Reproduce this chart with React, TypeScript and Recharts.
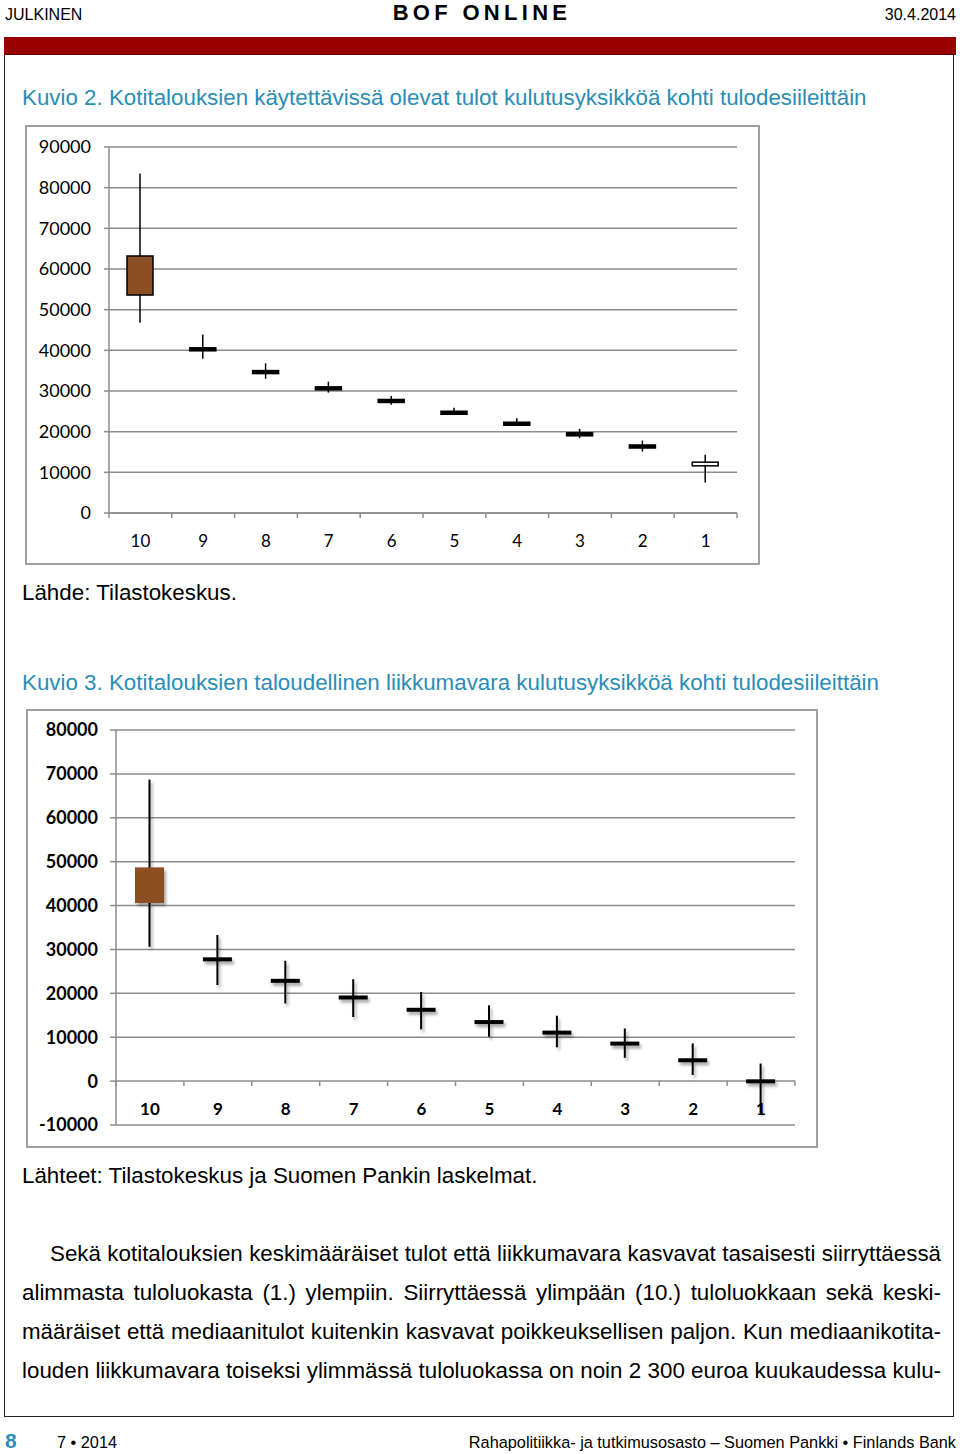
import React from 'react';
import { ComposedChart, Bar, XAxis, YAxis, CartesianGrid } from 'recharts';

// deciles, highest first as in the original figures
const deciles = ['10', '9', '8', '7', '6', '5', '4', '3', '2', '1'];

// Kuvio 2: disposable income per consumption unit (euro / year)
const incomeHigh = [83500, 43900, 36800, 32300, 28800, 25900, 23300, 20700, 17800, 14300];
const incomeBoxTop = [63200, 40600, 35000, 31000, 27900, 25000, 22300, 19700, 16700, 12500];
const incomeBoxBottom = [53600, 39900, 34300, 30300, 27200, 24300, 21600, 19000, 16000, 11600];
const incomeLow = [46800, 37900, 33000, 29600, 26600, 24300, 21600, 18400, 15100, 7500];
const incomeTicks = [0, 10000, 20000, 30000, 40000, 50000, 60000, 70000, 80000, 90000];

// Kuvio 3: financial margin per consumption unit (euro / year)
const marginHigh = [68700, 33300, 27400, 23200, 20300, 17300, 14900, 12000, 8600, 4000];
const marginBoxTop = [48700, 28200, 23300, 19500, 16700, 13900, 11500, 9000, 5200, 400];
const marginBoxBottom = [40600, 27300, 22400, 18600, 15800, 13000, 10600, 8100, 4300, -500];
const marginLow = [30600, 21900, 17700, 14600, 11800, 10100, 7700, 5300, 1400, -7400];
const marginTicks = [-10000, 0, 10000, 20000, 30000, 40000, 50000, 60000, 70000, 80000];

const bodyLines = [
  'Sekä kotitalouksien keskimääräiset tulot että liikkumavara kasvavat tasaisesti siirryttäessä',
  'alimmasta tuloluokasta (1.) ylempiin. Siirryttäessä ylimpään (10.) tuloluokkaan sekä keski-',
  'määräiset että mediaanitulot kuitenkin kasvavat poikkeuksellisen paljon. Kun mediaanikotita-',
  'louden liikkumavara toiseksi ylimmässä tuloluokassa on noin 2 300 euroa kuukaudessa kulu-',
];

const BROWN = '#8b4f24';
const GRID = '#8c8c8c';
const TEAL = '#2a8db5';
const TEXT_SIZE = 22.35;

type Row = { decile: string; high: number; top: number; bottom: number; low: number };

function buildRows(high: number[], top: number[], bottom: number[], low: number[]): Row[] {
  return deciles.map((d, i) => ({ decile: d, high: high[i], top: top[i], bottom: bottom[i], low: low[i] }));
}

const incomeRows = buildRows(incomeHigh, incomeBoxTop, incomeBoxBottom, incomeLow);
const marginRows = buildRows(marginHigh, marginBoxTop, marginBoxBottom, marginLow);

function makeCandle(opts: { fill: (d: string) => string; wick: number; minBox: number; shadow: boolean; id: string }) {
  return function Candle(props: any) {
    const { x, y, width, height, payload, index } = props;
    if (x == null || y == null) return <g />;
    const top = Math.min(y, y + height);
    const h = Math.abs(height);
    const span = payload.high - payload.low;
    const k = span ? h / span : 0;
    const cx = x + width / 2;
    let yTop = top + (payload.high - payload.top) * k;
    let yBot = top + (payload.high - payload.bottom) * k;
    if (yBot - yTop < opts.minBox) {
      const mid = (yTop + yBot) / 2;
      yTop = mid - opts.minBox / 2;
      yBot = mid + opts.minBox / 2;
    }
    const fid = `${opts.id}-sh-${index}`;
    return (
      <g>
        {opts.shadow && (
          <defs>
            <filter id={fid} x="-50%" y="-50%" width="200%" height="200%">
              <feDropShadow dx="2" dy="3" stdDeviation="1.5" floodColor="#000" floodOpacity="0.35" />
            </filter>
          </defs>
        )}
        <g filter={opts.shadow ? `url(#${fid})` : undefined}>
          <line x1={cx} x2={cx} y1={top} y2={top + h} stroke="#000" strokeWidth={opts.wick} />
          <rect
            x={x}
            y={yTop}
            width={width}
            height={yBot - yTop}
            fill={opts.fill(payload.decile)}
            stroke="#000"
            strokeWidth={opts.minBox > 3 ? 0 : 1.5}
          />
        </g>
      </g>
    );
  };
}

function CategoryTick(props: any) {
  const { x, y, payload, index, band, zeroShift, bold, labelGap, fontSize } = props;
  const axisY = y - zeroShift;
  return (
    <g>
      <line x1={x - band / 2} x2={x - band / 2} y1={axisY} y2={axisY + 5} stroke={GRID} strokeWidth={1.5} />
      {index === deciles.length - 1 && (
        <line x1={x + band / 2} x2={x + band / 2} y1={axisY} y2={axisY + 5} stroke={GRID} strokeWidth={1.5} />
      )}
      <text
        x={x}
        y={axisY + labelGap}
        textAnchor="middle"
        dominantBaseline="central"
        fill="#000"
        fontFamily="Lato, sans-serif"
        fontWeight={bold ? 700 : 400}
        fontSize={fontSize}
      >
        {payload.value}
      </text>
    </g>
  );
}

const IncomeCandle = makeCandle({
  fill: (d) => (d === '10' ? BROWN : d === '1' ? '#fff' : '#000'),
  wick: 1.5,
  minBox: 3,
  shadow: false,
  id: 'inc',
});

const MarginCandle = makeCandle({
  fill: (d) => (d === '10' ? BROWN : '#000'),
  wick: 2,
  minBox: 4,
  shadow: true,
  id: 'mar',
});

function IncomeChart() {
  const w = 735;
  const h = 440;
  const left = 84;
  const right = 23;
  const band = (w - left - right) / deciles.length;
  return (
    <ComposedChart width={w} height={h} data={incomeRows} margin={{ top: 22, right, bottom: 0, left: 0 }}>
      <CartesianGrid horizontal vertical={false} stroke={GRID} strokeWidth={1.5} />
      <XAxis
        dataKey="decile"
        height={52}
        axisLine={{ stroke: GRID, strokeWidth: 1.5 }}
        tickLine={false}
        tickSize={0}
        tickMargin={0}
        interval={0}
        tick={(p: any) => <CategoryTick {...p} band={band} zeroShift={0} labelGap={27} fontSize={17} />}
      />
      <YAxis
        type="number"
        domain={[0, 90000]}
        ticks={incomeTicks}
        interval={0}
        width={left}
        axisLine={{ stroke: GRID, strokeWidth: 1.5 }}
        tickLine={{ stroke: GRID, strokeWidth: 1.5 }}
        tickSize={5}
        tickMargin={13}
        tick={{ fill: '#000', fontSize: 18, fontFamily: 'Lato, sans-serif' }}
      />
      <Bar
        dataKey={(d: Row) => [d.low, d.high]}
        barSize={26}
        shape={IncomeCandle}
        isAnimationActive={false}
      />
    </ComposedChart>
  );
}

function MarginChart() {
  const w = 792;
  const h = 439;
  const left = 90;
  const right = 23;
  const top = 21;
  const axisH = 23;
  const band = (w - left - right) / deciles.length;
  const plotH = h - top - axisH;
  const zeroShift = (plotH * (0 - -10000)) / (80000 - -10000);
  return (
    <ComposedChart width={w} height={h} data={marginRows} margin={{ top, right, bottom: 0, left: 0 }}>
      <CartesianGrid horizontal vertical={false} stroke={GRID} strokeWidth={1.5} />
      <XAxis
        dataKey="decile"
        height={axisH}
        axisLine={false}
        tickLine={false}
        tickSize={0}
        tickMargin={0}
        interval={0}
        tick={(p: any) => (
          <CategoryTick {...p} band={band} zeroShift={zeroShift} labelGap={27} fontSize={17} bold />
        )}
      />
      <YAxis
        type="number"
        domain={[-10000, 80000]}
        ticks={marginTicks}
        interval={0}
        width={left}
        axisLine={{ stroke: GRID, strokeWidth: 1.5 }}
        tickLine={{ stroke: GRID, strokeWidth: 1.5 }}
        tickSize={6}
        tickMargin={12}
        tick={{ fill: '#000', fontSize: 18, fontWeight: 700, fontFamily: 'Lato, sans-serif' }}
      />
      <Bar
        dataKey={(d: Row) => [d.low, d.high]}
        barSize={29}
        shape={MarginCandle}
        isAnimationActive={false}
      />
    </ComposedChart>
  );
}

const abs = (top: number, left: number, extra: React.CSSProperties = {}): React.CSSProperties => ({
  position: 'absolute',
  top,
  left,
  ...extra,
});

export default function App() {
  return (
    <div
      style={{
        position: 'absolute',
        top: 0,
        left: 0,
        width: 960,
        height: 1454,
        background: '#fff',
        fontFamily: '"Liberation Sans", Arial, sans-serif',
        color: '#000',
        overflow: 'hidden',
      }}
    >
      {/* header */}
      <div style={abs(5, 5, { fontSize: 16, lineHeight: '20px' })}>JULKINEN</div>
      <div
        style={abs(0, 2, {
          width: 960,
          textAlign: 'center',
          fontSize: 22,
          fontWeight: 700,
          letterSpacing: 4.3,
          lineHeight: '26px',
        })}
      >
        BOF ONLINE
      </div>
      <div style={abs(5, 0, { width: 956, textAlign: 'right', fontSize: 16, lineHeight: '20px' })}>30.4.2014</div>
      <div style={abs(37, 4, { width: 952, height: 17, background: '#990000', borderBottom: '1px solid #5a0000' })} />

      {/* page frame */}
      <div
        style={abs(55, 4, {
          width: 950,
          height: 1362,
          borderLeft: '1.5px solid #222',
          borderRight: '1.5px solid #222',
          borderBottom: '1.5px solid #222',
          boxSizing: 'border-box',
        })}
      />

      <div style={abs(85, 22, { fontSize: TEXT_SIZE, lineHeight: '26px', color: TEAL, whiteSpace: 'nowrap' })}>
        Kuvio 2. Kotitalouksien käytettävissä olevat tulot kulutusyksikköä kohti tulodesiileittäin
      </div>
      <div style={abs(125, 25, { width: 735, height: 440, border: '2px solid #a0a0a0', boxSizing: 'border-box' })} />
      <div style={abs(125, 25)}>
        <IncomeChart />
      </div>
      <div style={abs(580, 22, { fontSize: TEXT_SIZE, lineHeight: '26px' })}>Lähde: Tilastokeskus.</div>

      <div style={abs(670, 22, { fontSize: TEXT_SIZE, lineHeight: '26px', color: TEAL, whiteSpace: 'nowrap' })}>
        Kuvio 3. Kotitalouksien taloudellinen liikkumavara kulutusyksikköä kohti tulodesiileittäin
      </div>
      <div style={abs(709, 26, { width: 792, height: 439, border: '2px solid #a0a0a0', boxSizing: 'border-box' })} />
      <div style={abs(709, 26)}>
        <MarginChart />
      </div>
      <div style={abs(1163, 22, { fontSize: TEXT_SIZE, lineHeight: '26px' })}>
        Lähteet: Tilastokeskus ja Suomen Pankin laskelmat.
      </div>

      {bodyLines.map((line, i) => (
        <div
          key={i}
          style={abs(1234 + i * 39, 22, {
            width: 919,
            paddingLeft: i === 0 ? 28 : 0,
            boxSizing: 'border-box',
            fontSize: TEXT_SIZE,
            lineHeight: '39px',
            textAlign: 'justify',
            textAlignLast: 'justify',
            whiteSpace: 'nowrap',
          })}
        >
          {line}
        </div>
      ))}

      {/* footer */}
      <div style={abs(1429, 5, { fontSize: 21, fontWeight: 700, color: TEAL, lineHeight: '24px' })}>8</div>
      <div style={abs(1432, 57, { fontSize: 16.3, lineHeight: '20px' })}>7 • 2014</div>
      <div style={abs(1432, 0, { width: 956, textAlign: 'right', fontSize: 16.3, lineHeight: '20px' })}>
        Rahapolitiikka- ja tutkimusosasto – Suomen Pankki • Finlands Bank
      </div>
    </div>
  );
}
